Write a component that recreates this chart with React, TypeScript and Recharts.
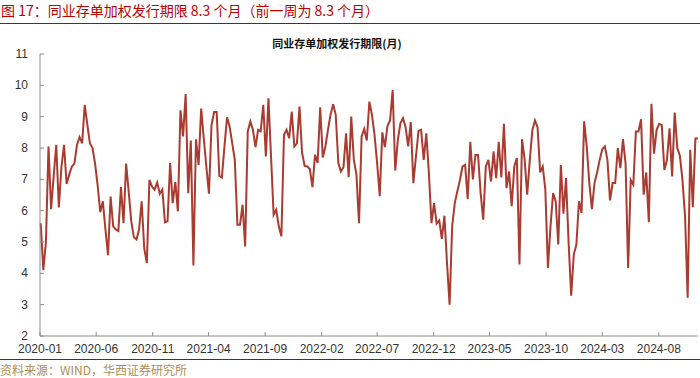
import { LineChart, Line, XAxis, YAxis } from "recharts";

// weekly readings, first week 2020-01-03
const startDay = 2; // days after 2020-01-01
const values: number[] = [
  5.6, 4.1, 5.0, 8.05, 6.05, 7.1, 8.1, 6.1, 7.4, 8.1,
  6.85, 7.15, 7.4, 7.5, 8.1, 8.35, 8.15, 9.38, 8.75, 8.15,
  8.0, 7.5, 6.8, 5.95, 6.3, 5.4, 4.58, 6.45, 5.5, 5.4,
  5.35, 6.75, 5.6, 7.5, 6.6, 5.65, 5.15, 5.08, 5.4, 6.3,
  4.8, 4.33, 6.98,
  6.77, 6.67, 6.9, 6.54, 6.67, 5.63, 5.66, 7.52, 6.24, 6.91,
  5.98, 9.2, 8.37, 9.72, 6.56, 8.24, 4.25, 8.28, 7.46, 9.26,
  8.31, 7.41, 6.54, 8.74, 9.15, 9.15, 7.11, 7.06, 8.05, 8.98,
  8.69, 8.15, 7.62, 5.55, 5.55, 6.19, 4.86, 8.53, 8.85, 8.58,
  8.03, 8.58,
  8.53, 9.38, 7.73, 9.59, 7.73, 5.87, 6.03, 5.5, 5.18, 8.42,
  8.58, 8.31, 9.16, 8.05, 8.15, 9.32, 7.84, 7.43, 7.41, 7.33,
  6.75, 7.78, 7.52, 9.3, 7.7, 8.05, 8.58, 9.06, 9.4, 9.06,
  7.52, 7.25, 7.39, 8.47, 7.07, 9.0, 7.62, 7.15, 5.6, 8.37,
  8.61, 8.24, 9.48,
  9.06, 8.42, 7.52, 6.46, 8.5, 8.03, 8.71, 8.88, 9.85, 7.28,
  8.26, 8.79, 8.95, 8.66, 8.05, 8.83, 6.88, 7.73, 8.55, 8.58,
  7.62, 8.47, 7.2, 5.6, 6.24, 5.59, 5.69, 5.1, 5.84, 4.33,
  3.0, 5.5, 6.24, 6.62, 6.98, 7.41, 7.46, 6.37, 8.2, 7.0,
  7.78, 7.78,
  6.56, 5.71, 7.41, 7.62, 6.93, 7.89, 7.04, 8.2, 7.06, 8.77,
  6.72, 7.25, 6.14, 7.41, 7.68, 4.28, 8.28, 7.62, 6.51, 7.62,
  8.58, 8.88, 8.66, 7.22, 7.41, 6.67, 4.17, 5.5, 6.56, 6.3,
  4.92, 7.46, 5.9, 7.04, 4.97, 3.29, 4.6, 4.92, 6.3, 5.93,
  8.85, 8.05,
  6.88, 6.05, 6.88, 7.22, 7.62, 7.96, 8.05, 7.62, 6.33, 6.88,
  6.88, 8.0, 7.36, 8.28, 7.52, 4.17, 6.98, 6.83, 8.53, 8.53,
  8.92, 6.51, 7.22, 5.63, 9.41, 7.82, 8.58, 8.77, 8.73, 7.3,
  7.62, 8.63, 7.09, 9.13, 8.0, 7.75, 6.98, 5.82, 3.22, 7.94,
  6.11, 8.3, 8.3,
];

const xLabels = [
  "2020-01", "2020-06", "2020-11", "2021-04", "2021-09", "2022-02",
  "2022-07", "2022-12", "2023-05", "2023-10", "2024-03", "2024-08",
];
const yTicks = [2, 3, 4, 5, 6, 7, 8, 9, 10, 11];

const DAY = 86400000;
const base = Date.UTC(2020, 0, 1);
const labelDay = (s: string) => {
  const [y, m] = s.split("-").map(Number);
  return (Date.UTC(y, m - 1, 1) - base) / DAY;
};
const xTicks = xLabels.map(labelDay);
const labelOf = (d: number) => xLabels[xTicks.indexOf(d)] ?? "";

const data = values.map((v, i) => ({ day: startDay + i * 7, v }));

const RED = "#C00000";
const LINE = "#A93B30";
const AXIS = "#8c8c8c";
const NUM_FONT = "'Liberation Sans', Arial, sans-serif";
const CJK_FONT = "'Noto Sans CJK SC', sans-serif";

const XTick = (p: any) => (
  <g>
    <line x1={p.x} x2={p.x} y1={p.y} y2={p.y - 4} stroke={AXIS} />
    <text x={p.x} y={p.y + 17} textAnchor="middle" fontSize={12} fill="#333" fontFamily={NUM_FONT}>
      {labelOf(p.payload.value)}
    </text>
  </g>
);

const YTick = (p: any) => (
  <g>
    <line x1={p.x} x2={p.x + 4} y1={p.y} y2={p.y} stroke={AXIS} />
    <text x={p.x - 12} y={p.y + 4} textAnchor="end" fontSize={12} fill="#333" fontFamily={NUM_FONT}>
      {p.payload.value}
    </text>
  </g>
);

export default function App() {
  return (
    <div style={{ position: "absolute", left: 0, top: 0, width: 700, height: 378, background: "#fff", overflow: "hidden" }}>
      <div style={{ position: "absolute", left: 1, top: 1, fontSize: 14, lineHeight: "18px", color: RED, fontFamily: CJK_FONT, whiteSpace: "nowrap" }}>
        图 17：同业存单加权发行期限 8.3 个月（前一周为 8.3 个月）
      </div>
      <div style={{ position: "absolute", left: 0, top: 23, width: 700, height: 1, background: RED }} />
      <div style={{ position: "absolute", left: 237, top: 35, width: 200, textAlign: "center", fontSize: 11, lineHeight: "16px", fontWeight: "bold", color: "#111", fontFamily: CJK_FONT, whiteSpace: "nowrap" }}>
        同业存单加权发行期限(月)
      </div>
      <div style={{ position: "absolute", left: 0, top: 0 }}>
        <LineChart width={700} height={378} data={data} margin={{ top: 54, right: 2, bottom: 12, left: 0 }}>
          <XAxis
            dataKey="day"
            type="number"
            domain={[0, "dataMax"]}
            ticks={xTicks}
            interval={0}
            tick={XTick}
            tickLine={false}
            tickSize={0}
            tickMargin={0}
            height={30}
            axisLine={{ stroke: AXIS }}
          />
          <YAxis
            type="number"
            domain={[2, 11]}
            ticks={yTicks}
            interval={0}
            tick={YTick}
            tickLine={false}
            tickSize={0}
            tickMargin={0}
            width={40}
            axisLine={{ stroke: AXIS }}
          />
          <Line
            type="linear"
            dataKey="v"
            stroke={LINE}
            strokeWidth={2}
            dot={false}
            isAnimationActive={false}
          />
        </LineChart>
      </div>
      <div style={{ position: "absolute", left: 0, top: 359, width: 700, height: 1, background: RED }} />
      <div style={{ position: "absolute", left: 0, top: 362, fontSize: 12, lineHeight: "16px", color: "#B08D57", fontFamily: CJK_FONT, whiteSpace: "nowrap" }}>
        资料来源：WIND，华西证券研究所
      </div>
    </div>
  );
}
